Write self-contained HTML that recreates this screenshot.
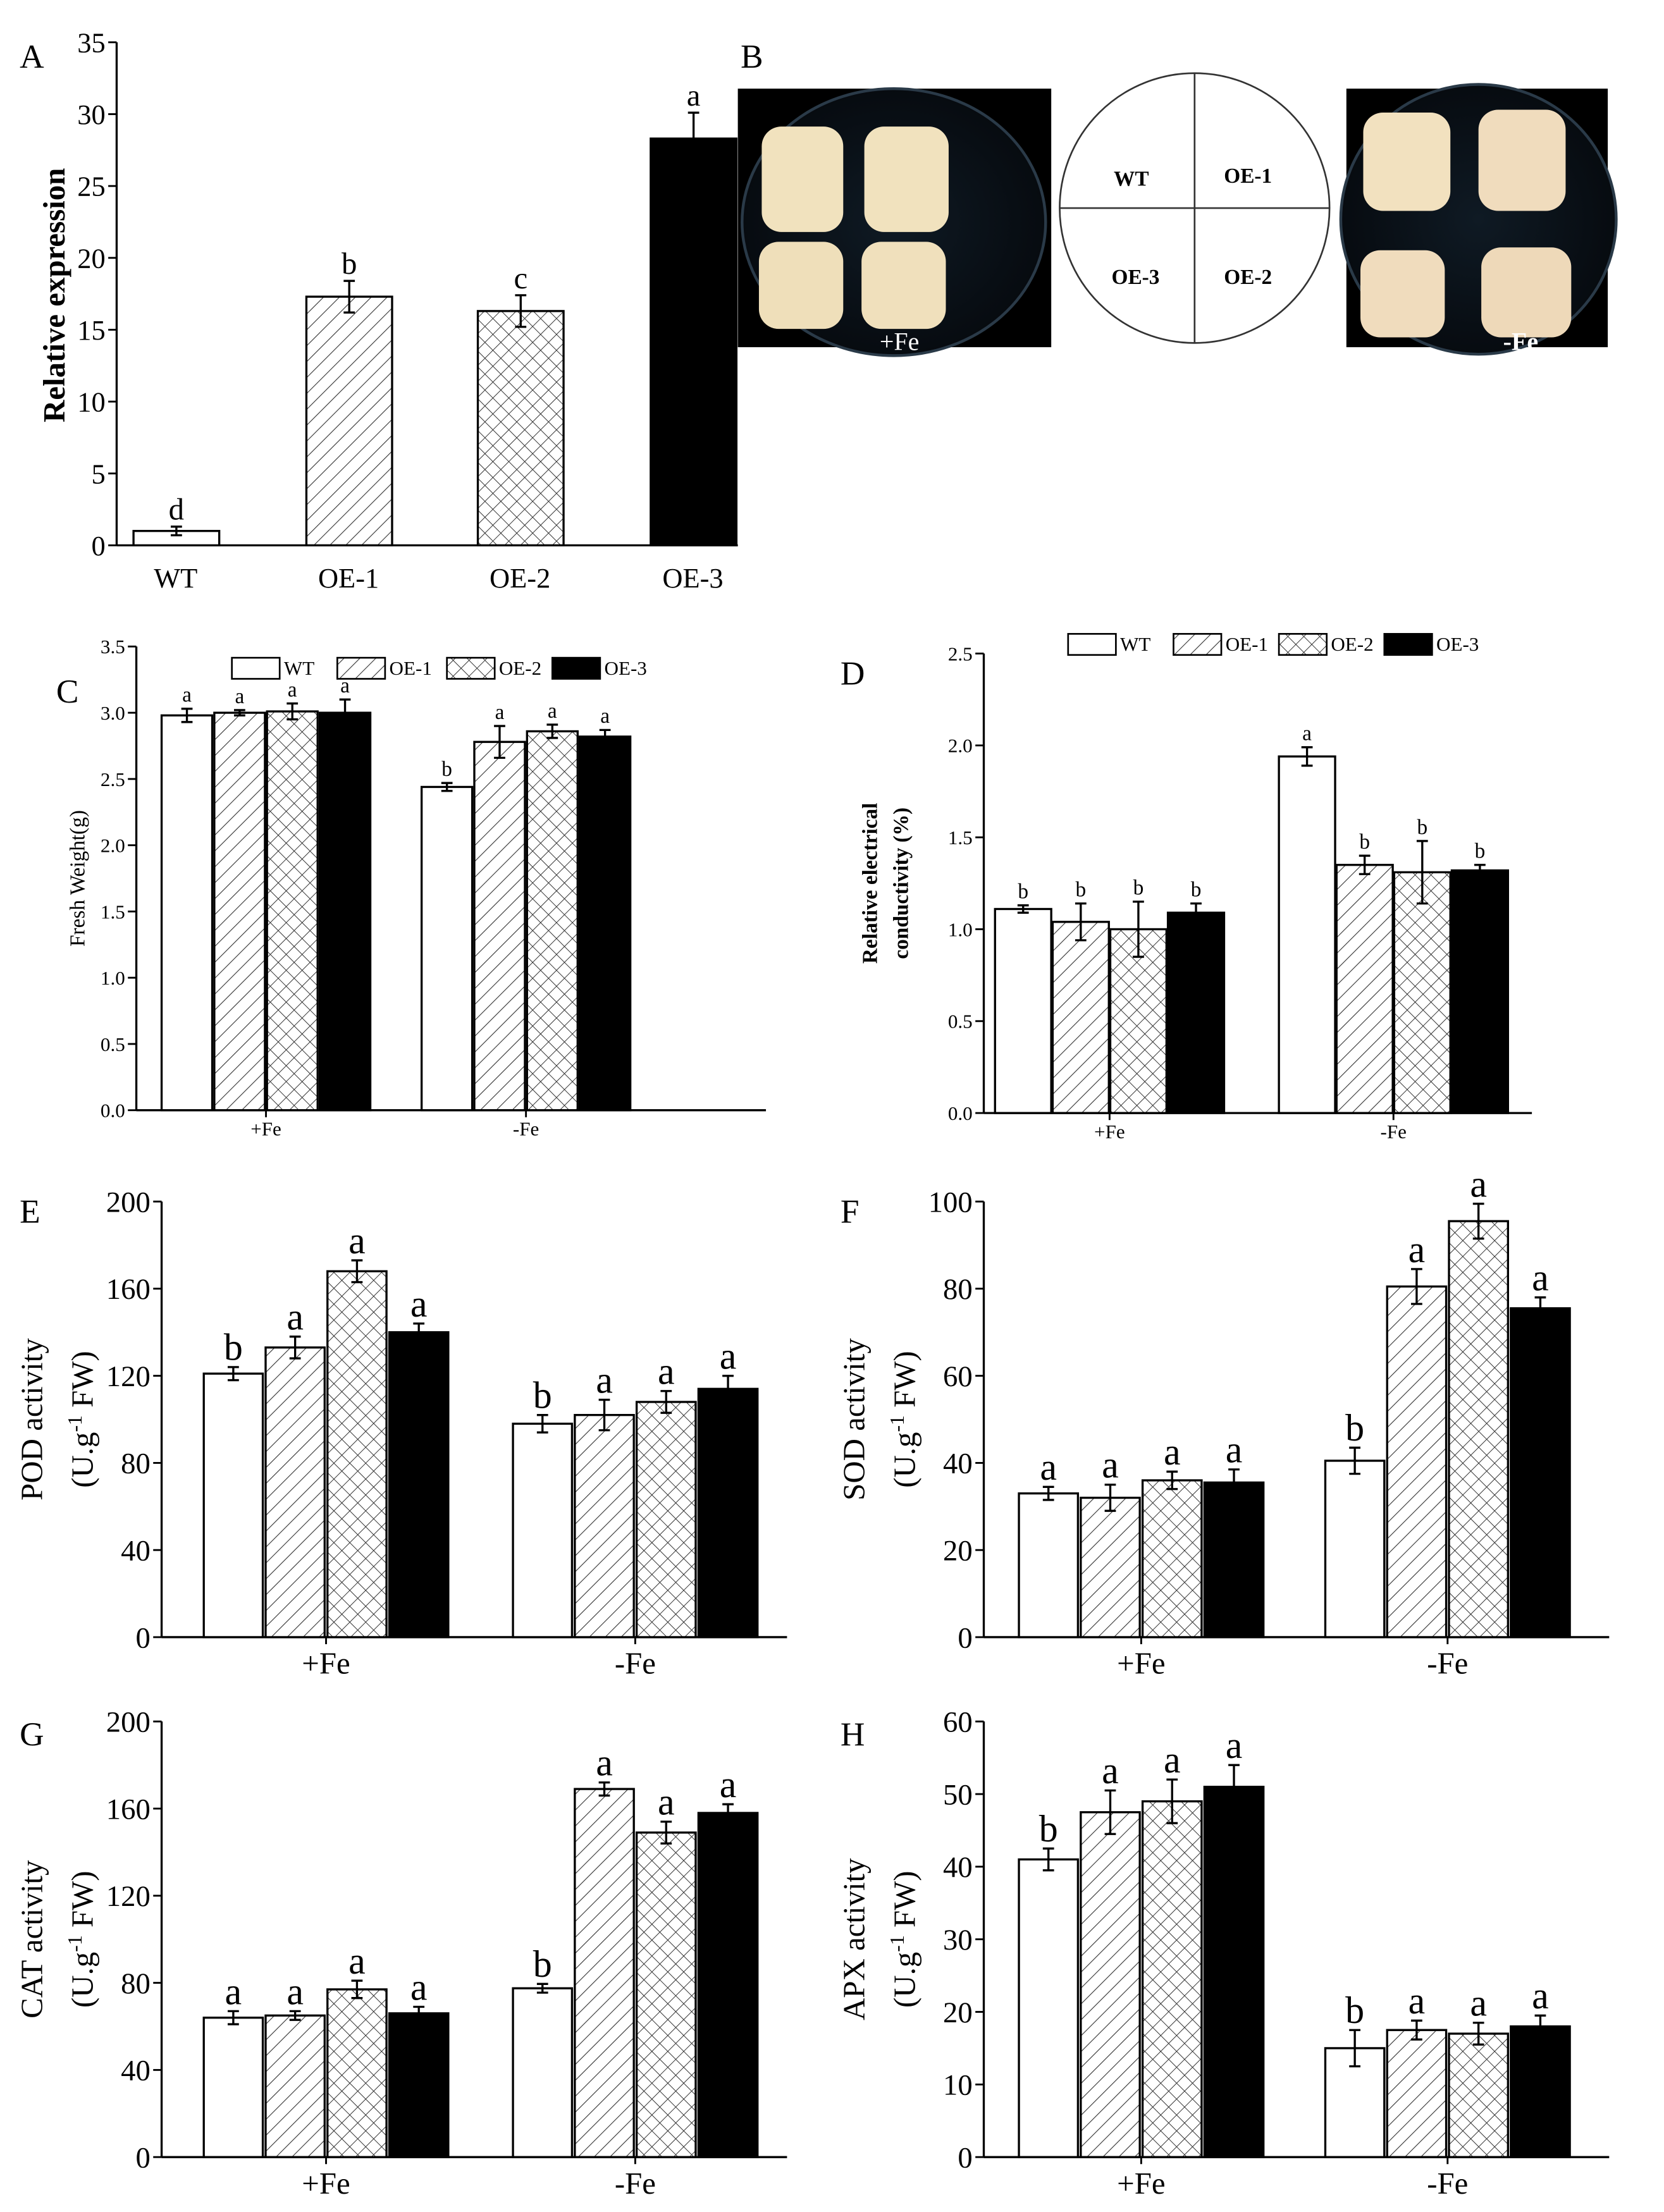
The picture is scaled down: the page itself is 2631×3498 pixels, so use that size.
<!DOCTYPE html>
<html><head><meta charset="utf-8"><style>
html,body{margin:0;padding:0;background:#fff}
svg{display:block}
text{font-family:"Liberation Serif",serif;fill:#000}
</style></head><body>
<svg id="fig" width="2631" height="3498" viewBox="0 0 1184 1574" xmlns="http://www.w3.org/2000/svg">
<defs>
<pattern id="hatch" patternUnits="userSpaceOnUse" width="8" height="8" patternTransform="rotate(45)">
<rect width="8" height="8" fill="#fff"/><line x1="0" y1="0" x2="0" y2="8" stroke="#333" stroke-width="1"/></pattern>
<pattern id="cross" patternUnits="userSpaceOnUse" width="8" height="8" patternTransform="rotate(45)">
<rect width="8" height="8" fill="#fff"/><line x1="0" y1="0" x2="0" y2="8" stroke="#333" stroke-width="0.9"/><line x1="0" y1="0" x2="8" y2="0" stroke="#333" stroke-width="0.9"/></pattern>
<radialGradient id="dish" cx="50%" cy="50%" r="60%"><stop offset="0" stop-color="#0f1a24"/><stop offset="1" stop-color="#05080c"/></radialGradient>
</defs>
<g id="panelB">
<text x="527" y="48" font-size="24">B</text>
<rect x="525" y="63" width="223" height="184" fill="#000"/>
<ellipse cx="636" cy="158" rx="108" ry="95" fill="url(#dish)" stroke="#2a3a48" stroke-width="2"/>
<rect x="542" y="90" width="58" height="75" rx="14" fill="#f1e2be"/><rect x="615" y="90" width="60" height="75" rx="14" fill="#f1e2be"/>
<rect x="540" y="172" width="60" height="62" rx="14" fill="#efdfba"/><rect x="613" y="172" width="60" height="62" rx="14" fill="#f0e0bc"/>
<text x="640" y="249" font-size="18" text-anchor="middle" style="fill:#fff">+Fe</text>
<ellipse cx="850" cy="148" rx="96" ry="96" fill="#fff" stroke="#333" stroke-width="1.2"/>
<line x1="850" y1="52" x2="850" y2="244" stroke="#333" stroke-width="1.2"/><line x1="754" y1="148" x2="946" y2="148" stroke="#333" stroke-width="1.2"/>
<text x="805" y="132" font-size="15" font-weight="bold" text-anchor="middle">WT</text>
<text x="888" y="130" font-size="15" font-weight="bold" text-anchor="middle">OE-1</text>
<text x="808" y="202" font-size="15" font-weight="bold" text-anchor="middle">OE-3</text>
<text x="888" y="202" font-size="15" font-weight="bold" text-anchor="middle">OE-2</text>
<rect x="958" y="63" width="186" height="184" fill="#000"/>
<ellipse cx="1052" cy="156" rx="98" ry="96" fill="url(#dish)" stroke="#2a3a48" stroke-width="2"/>
<rect x="970" y="80" width="62" height="70" rx="14" fill="#f2e1bf"/><rect x="1052" y="78" width="62" height="72" rx="14" fill="#f0dcbd"/>
<rect x="968" y="178" width="60" height="62" rx="14" fill="#f0dcbd"/><rect x="1054" y="176" width="64" height="64" rx="14" fill="#eed9b9"/>
<text x="1082" y="249" font-size="18" font-weight="bold" text-anchor="middle" style="fill:#fff">-Fe</text>
</g>
</svg>
<script>
// Panel A data
const aCats=['WT','OE-1','OE-2','OE-3'];
const aVals=[1.0,17.3,16.3,28.3];
const aErr=[0.3,1.1,1.1,1.8];
const aLetters=['d','b','c','a'];
const groups=['+Fe','-Fe'];
const seriesNames=['WT','OE-1','OE-2','OE-3'];
// Panel C
const cPlus=[2.98,3.00,3.01,3.00]; const cPlusErr=[0.05,0.02,0.06,0.10];
const cMinus=[2.44,2.78,2.86,2.82]; const cMinusErr=[0.03,0.12,0.05,0.05];
const cLetters=[['a','a','a','a'],['b','a','a','a']];
// Panel D
const dPlus=[1.11,1.04,1.00,1.09]; const dPlusErr=[0.02,0.10,0.15,0.05];
const dMinus=[1.94,1.35,1.31,1.32]; const dMinusErr=[0.05,0.05,0.17,0.03];
const dLetters=[['b','b','b','b'],['a','b','b','b']];
// Panel E
const ePlus=[121,133,168,140]; const ePlusErr=[3,5,5,4];
const eMinus=[98,102,108,114]; const eMinusErr=[4,7,5,6];
const eLetters=[['b','a','a','a'],['b','a','a','a']];
// Panel F
const fPlus=[33,32,36,35.5]; const fPlusErr=[1.5,3,2,3];
const fMinus=[40.5,80.5,95.5,75.5]; const fMinusErr=[3,4,4,2.5];
const fLetters=[['a','a','a','a'],['b','a','a','a']];
// Panel G
const gPlus=[64,65,77,66]; const gPlusErr=[3,2,4,3];
const gMinus=[77.5,169,149,158]; const gMinusErr=[2,3,5,4];
const gLetters=[['a','a','a','a'],['b','a','a','a']];
// Panel H
const hPlus=[41,47.5,49,51]; const hPlusErr=[1.5,3,3,3];
const hMinus=[15,17.5,17,18]; const hMinusErr=[2.5,1.3,1.5,1.5];
const hLetters=[['b','a','a','a'],['b','a','a','a']];

const NS='http://www.w3.org/2000/svg';
const svg=document.getElementById('fig');
const fills=['#fff','url(#hatch)','url(#cross)','#000'];
function mk(tag,attrs,parent){const e=document.createElementNS(NS,tag);for(const k in attrs)e.setAttribute(k,attrs[k]);(parent||svg).appendChild(e);return e;}
function txt(parent,x,y,s,size,extra){const t=mk('text',Object.assign({x:x,y:y,'font-size':size,'text-anchor':'middle'},extra||{}),parent);t.textContent=s;return t;}

function axes(g,L){
  const y=v=>L.yb-(v/L.max)*(L.yb-L.yt);
  mk('line',{x1:L.ax,y1:L.yt,x2:L.ax,y2:L.yb,stroke:'#000','stroke-width':1.5},g);
  mk('line',{x1:L.ax,y1:L.yb,x2:L.xr,y2:L.yb,stroke:'#000','stroke-width':1.5},g);
  for(let v=0;v<=L.max+1e-9;v+=L.step){
    const t=mk('line',{x1:L.ax-6,y1:y(v),x2:L.ax,y2:y(v),stroke:'#000','stroke-width':1.3},g);
    
    
    const lb=txt(g,L.ax-8,y(v)+L.tf*0.35,(L.dec?v.toFixed(L.dec):String(Math.round(v))),L.tf,{'text-anchor':'end'});
    
    
  }
  return y;
}
function bar(g,x,w,v,e,lt,fill,y,lf,name){
  const r=mk('rect',{x:x,y:y(v),width:w,height:y(0)-y(v),fill:fill,stroke:'#000','stroke-width':1.5},g);
  
  
  const cx=x+w/2, c=4;
  const eb=mk('path',{d:`M${cx},${y(v-e)}V${y(v+e)}M${cx-c},${y(v+e)}H${cx+c}M${cx-c},${y(v-e)}H${cx+c}`,stroke:'#000','stroke-width':1.5,fill:'none'},g);
  
  
  const l=txt(g,cx,y(v+e)-5,lt,lf);
  
  
}
function groupPanel(id,L,data,errs,letters){
  const g=mk('g',{id:id});
  
  
  const y=axes(g,L);
  for(let gi=0;gi<groups.length;gi++){
    for(let i=0;i<4;i++){
      bar(g,L.gs[gi]+i*(L.bw+L.gap),L.bw,data[gi][i],errs[gi][i],letters[gi][i],fills[i],y,L.lf,'bar-'+seriesNames[i].toLowerCase()+(gi?'-minus-fe':'-plus-fe'));
    }
    const cx=L.gs[gi]+2*(L.bw+L.gap)-L.gap/2;
    mk('line',{x1:cx,y1:L.yb,x2:cx,y2:L.yb+5,stroke:'#000','stroke-width':1.3},g);
    const t=txt(g,cx,L.yb+L.xf+4,groups[gi],L.xf);
    
    
  }
  const p=txt(g,L.plx,L.ply,L.pl,24,{'text-anchor':'start'});
  
  
  L.ylab.forEach((s,k)=>{
    const t=mk('text',{x:0,y:0,'font-size':L.yf,'text-anchor':'middle','font-weight':L.ybold?'bold':'normal',transform:`translate(${L.ylx[k]},${(L.yt+L.yb)/2}) rotate(-90)`},g);
    if(typeof s==='object'){t.textContent=s.a;const ts=mk('tspan',{dy:-8,'font-size':L.yf*0.65},t);ts.textContent=s.sup;const t2=mk('tspan',{dy:8},t);t2.textContent=s.b;}
    else t.textContent=s;
    
    
  });
  if(L.leg){
    L.leg.xs.forEach((lx,i)=>{
      const r=mk('rect',{x:lx,y:L.leg.y-7,width:34,height:15,fill:fills[i],stroke:'#000','stroke-width':1.2},g);
      
      
      const t=txt(g,lx+37,L.leg.y+5,seriesNames[i],14,{'text-anchor':'start'});
      
      
    });
  }
}

// Panel A
(function(){
  const g=mk('g',{id:'A'});
  
  
  const L={ax:83,yt:30,yb:388,xr:525,max:35,step:5,tf:20};
  const y=axes(g,L);
  const xs=[95,218,340,463];
  aVals.forEach((v,i)=>{
    bar(g,xs[i],61,v,aErr[i],aLetters[i],fills[i],y,22,'bar-'+aCats[i].toLowerCase());
    const t=txt(g,xs[i]+30,L.yb+30,aCats[i],20);
    
    
  });
  const p=txt(g,14,48,'A',24,{'text-anchor':'start'});
  
  
  const t=mk('text',{x:0,y:0,'font-size':22,'font-weight':'bold','text-anchor':'middle',transform:'translate(46,210) rotate(-90)'},g);
  t.textContent='Relative expression';
  
  
})();

const smallCommon={tf:14,xf:14,lf:15,yf:15};
groupPanel('C',Object.assign({ax:97,yt:460,yb:790,xr:545,max:3.5,step:0.5,dec:1,gs:[115,300],bw:36,gap:1.5,plx:40,ply:500,pl:'C',ylab:['Fresh Weight(g)'],ylx:[60],ybold:false,
  leg:{y:475,xs:[165,240,318,393]}},smallCommon),[cPlus,cMinus],[cPlusErr,cMinusErr],cLetters);
groupPanel('D',Object.assign({ax:700,yt:465,yb:792,xr:1090,max:2.5,step:0.5,dec:1,gs:[708,910],bw:40,gap:1,plx:598,ply:487,pl:'D',ylab:['Relative electrical','conductivity (%)'],ylx:[624,646],ybold:true,
  leg:{y:458,xs:[760,835,910,985]}},smallCommon),[dPlus,dMinus],[dPlusErr,dMinusErr],dLetters);
const big={tf:21,xf:22,lf:27,yf:22};
groupPanel('E',Object.assign({ax:115,yt:855,yb:1165,xr:560,max:200,step:40,gs:[145,365],bw:42,gap:2,plx:14,ply:870,pl:'E',ylab:['POD activity',{a:'(U.g',sup:'-1',b:' FW)'}],ylx:[30,66]},big),[ePlus,eMinus],[ePlusErr,eMinusErr],eLetters);
groupPanel('F',Object.assign({ax:700,yt:855,yb:1165,xr:1145,max:100,step:20,gs:[725,943],bw:42,gap:2,plx:598,ply:870,pl:'F',ylab:['SOD activity',{a:'(U.g',sup:'-1',b:' FW)'}],ylx:[615,651]},big),[fPlus,fMinus],[fPlusErr,fMinusErr],fLetters);
groupPanel('G',Object.assign({ax:115,yt:1225,yb:1535,xr:560,max:200,step:40,gs:[145,365],bw:42,gap:2,plx:14,ply:1242,pl:'G',ylab:['CAT activity',{a:'(U.g',sup:'-1',b:' FW)'}],ylx:[30,66]},big),[gPlus,gMinus],[gPlusErr,gMinusErr],gLetters);
groupPanel('H',Object.assign({ax:700,yt:1225,yb:1535,xr:1145,max:60,step:10,gs:[725,943],bw:42,gap:2,plx:598,ply:1242,pl:'H',ylab:['APX activity',{a:'(U.g',sup:'-1',b:' FW)'}],ylx:[615,651]},big),[hPlus,hMinus],[hPlusErr,hMinusErr],hLetters);
</script>
</body></html>
